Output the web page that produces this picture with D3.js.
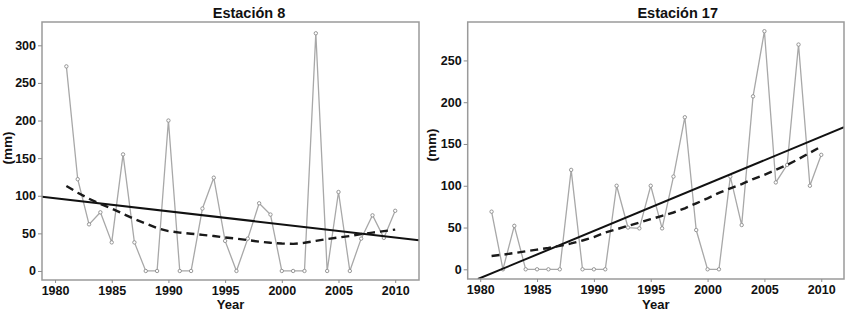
<!DOCTYPE html>
<html>
<head>
<meta charset="utf-8">
<script src="https://cdn.jsdelivr.net/npm/d3@7"></script>
<style>
    body { margin: 0; background: #fff; }
    text { font-family: Arial, "Liberation Sans", sans-serif; font-weight: bold; fill: #111; }
</style>
</head>
<body>
<svg id="drawing_region"></svg>
<script>
// years shared by both stations
const years = d3.range(1981, 2011);

// Estación 8 - rainfall (mm)
const station8 = [272, 122, 62, 78, 38, 155, 38, 0, 0, 200,
                  0, 0, 83, 124, 40, 0, 43, 90, 75, 0,
                  0, 0, 316, 0, 105, 0, 43, 74, 44, 80];
// loess smooth (dashed)
const smooth8 = [113, 104, 96, 89, 83, 76, 69, 63, 57, 53,
                 51, 49.5, 48, 46.5, 44.5, 43, 41, 39, 37.5, 36.5,
                 36, 37.5, 40, 42.5, 44.5, 46.5, 49, 51, 53, 55];
// linear trend, end points
const trend8Years = [1978.85, 2012.1];
const trend8Values = [98.7, 41];

// Estación 17
const station17 = [69, 0, 52, 0, 0, 0, 0, 119, 0, 0,
                   0, 100, 50, 49, 100, 49, 111, 182, 47, 0,
                   0, 111, 53, 207, 285, 104, 125, 269, 100, 137];
const smooth17 = [16, 17.5, 19.5, 21.5, 23.5, 25.5, 28, 31, 34.5, 38.5,
                  44, 48, 52, 56, 60, 64, 68, 73, 79, 85,
                  91.5, 97, 102, 108, 113, 119, 125, 132, 139.5, 147];
const trend17Years = [1979.8, 2012.0];
const trend17Values = [-11.6, 170];

const xTicks = [1980, 1985, 1990, 1995, 2000, 2005, 2010];
const yTicks8 = [0, 50, 100, 150, 200, 250, 300];
const yTicks17 = [0, 50, 100, 150, 200, 250];

const svg = d3.select('#drawing_region')
    .attr('width', 850)
    .attr('height', 312);

class Panel {

    constructor( config ) {
        this.config = config;
        this.init();
    }

    init() {
        let self = this;
        const c = self.config;

        self.chart = svg.append('g')
            .attr('transform', `translate(${c.left}, ${c.top})`);

        self.xscale = d3.scaleLinear()
            .domain( c.xdomain )
            .range( [0, c.width] );

        self.yscale = d3.scaleLinear()
            .domain( c.ydomain )
            .range( [c.height, 0] );

        self.chart.append('clipPath')
            .attr('id', c.id + '_clip')
            .append('rect')
            .attr('width', c.width)
            .attr('height', c.height);
    }

    render() {
        let self = this;
        const c = self.config;

        const line = d3.line()
            .x( d => self.xscale(d[0]) )
            .y( d => self.yscale(d[1]) );

        // observed series
        const obs = years.map( (y, i) => [y, c.values[i]] );
        self.chart.append('path')
            .attr('d', line(obs))
            .attr('fill', 'none')
            .attr('stroke', '#a8a8a8')
            .attr('stroke-width', 1.3);

        self.chart.selectAll('circle')
            .data(obs)
            .join('circle')
            .attr('cx', d => self.xscale(d[0]))
            .attr('cy', d => self.yscale(d[1]))
            .attr('r', 1.7)
            .attr('fill', '#fff')
            .attr('stroke', '#8c8c8c')
            .attr('stroke-width', 0.9);

        const g = self.chart.append('g')
            .attr('clip-path', `url(#${c.id}_clip)`);

        // linear trend
        g.append('path')
            .attr('d', line(c.trendYears.map( (y, i) => [y, c.trendValues[i]] )))
            .attr('fill', 'none')
            .attr('stroke', '#111')
            .attr('stroke-width', 2);

        // smooth
        g.append('path')
            .attr('d', line(years.map( (y, i) => [y, c.smooth[i]] )))
            .attr('fill', 'none')
            .attr('stroke', '#1a1a1a')
            .attr('stroke-width', 2.4)
            .attr('stroke-dasharray', '8,5');

        // frame
        self.chart.append('rect')
            .attr('width', c.width)
            .attr('height', c.height)
            .attr('fill', 'none')
            .attr('stroke', '#9a9a9a')
            .attr('stroke-width', 1.5);

        const xaxis = self.chart.append('g')
            .attr('transform', `translate(0, ${c.height})`)
            .call( d3.axisBottom(self.xscale).tickValues(xTicks).tickFormat(d3.format('d'))
                .tickSize(3).tickPadding(3) );

        const yaxis = self.chart.append('g')
            .call( d3.axisLeft(self.yscale).tickValues(c.yticks)
                .tickSize(4).tickPadding(2) );

        [xaxis, yaxis].forEach( a => {
            a.select('.domain').remove();
            a.selectAll('line').attr('stroke', '#8c8c8c');
            a.selectAll('text')
                .attr('fill', '#111')
                .style('font-size', '12.5px')
                .style('font-weight', 'bold')
                .style('font-family', 'Arial, "Liberation Sans", sans-serif');
        });

        self.chart.append('text')
            .attr('x', c.titleX)
            .attr('y', -4.5)
            .attr('text-anchor', 'middle')
            .style('font-size', '14.5px')
            .text(c.title);

        self.chart.append('text')
            .attr('x', c.width / 2)
            .attr('y', 309 - c.top)
            .attr('text-anchor', 'middle')
            .style('font-size', '13px')
            .text('Year');

        self.chart.append('text')
            .attr('transform', `translate(${c.ylabelX}, ${c.ylabelY}) rotate(-90)`)
            .attr('text-anchor', 'middle')
            .style('font-size', '13.5px')
            .text('(mm)');
    }
}

const left = new Panel({
    id: 'p8', left: 42, top: 22, width: 377, height: 258,
    xdomain: [1978.85, 2012.1], ydomain: [-12, 331],
    yticks: yTicks8, values: station8, smooth: smooth8,
    trendYears: trend8Years, trendValues: trend8Values,
    title: 'Estación 8', titleX: 207, ylabelX: -30, ylabelY: 126
});
left.render();

const right = new Panel({
    id: 'p17', left: 467.7, top: 22, width: 376.3, height: 257,
    xdomain: [1978.9, 2012.0], ydomain: [-11.6, 296],
    yticks: yTicks17, values: station17, smooth: smooth17,
    trendYears: trend17Years, trendValues: trend17Values,
    title: 'Estación 17', titleX: 210, ylabelX: -32, ylabelY: 123
});
right.render();
</script>
</body>
</html>
